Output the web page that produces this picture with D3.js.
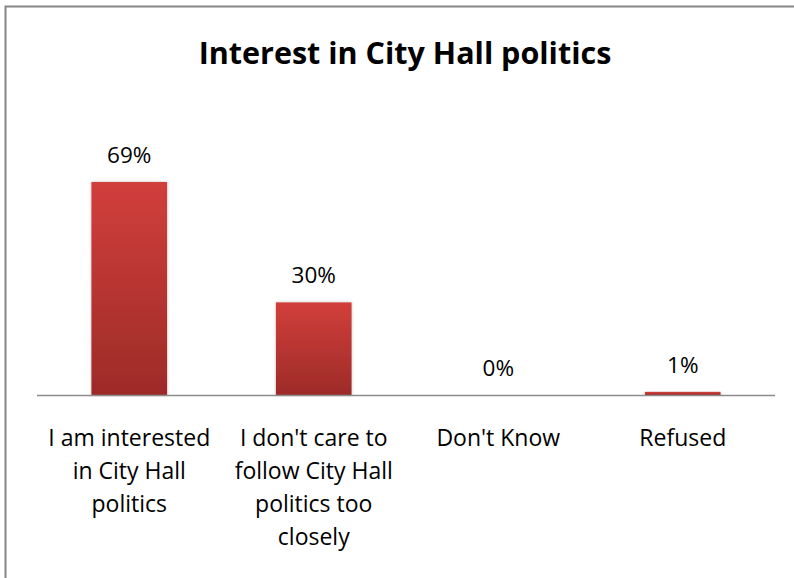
<!DOCTYPE html>
<html><head><meta charset="utf-8">
<script src="https://cdn.jsdelivr.net/npm/d3@7"></script>
<style>body{margin:0;background:#fff}svg{display:block}</style>
</head><body>
<script>
const categories = [
  ["I am interested", "in City Hall", "politics"],
  ["I don't care to", "follow City Hall", "politics too", "closely"],
  ["Don't Know"],
  ["Refused"]
];
const values = [69, 30, 0, 1];
const valueLabels = ["69%", "30%", "0%", "1%"];
const title = "Interest in City Hall politics";

const W = 794, H = 578;
const svg = d3.select("body").append("svg").attr("width", W).attr("height", H);
const defs = svg.append("defs");
const grad = defs.append("linearGradient").attr("id","bg").attr("x1",0).attr("y1",0).attr("x2",0).attr("y2",1);
grad.append("stop").attr("offset","0%").attr("stop-color","#d13f3b");
grad.append("stop").attr("offset","100%").attr("stop-color","#9d2b28");
const f = defs.append("filter").attr("id","sh").attr("x","-20%").attr("y","-20%").attr("width","140%").attr("height","140%");
f.append("feDropShadow").attr("dx",0).attr("dy",0).attr("stdDeviation",1.5).attr("flood-color","#000").attr("flood-opacity",0.25);

svg.append("rect").attr("x",5.5).attr("y",6.5).attr("width",W).attr("height",H)
  .attr("fill","#fff").attr("stroke","#868686").attr("stroke-width",2);

const font = "'Open Sans', sans-serif";
const x0 = 37, x1 = 775, yBase = 395;
const x = d3.scaleBand().domain(d3.range(categories.length)).range([x0, x1]).paddingInner(0.59).paddingOuter(0.295);
const y = d3.scaleLinear().domain([0, 69]).range([yBase, 182]);

svg.append("text").attr("x", 405).attr("y", 64).attr("text-anchor","middle")
  .attr("font-family", font).attr("font-weight","bold").attr("font-size", 30.5).attr("fill","#000").text(title);

svg.selectAll(".bar").data(values).join("rect").attr("class","bar")
  .attr("x",(d,i)=>x(i)).attr("width",x.bandwidth())
  .attr("y",d=>y(d)).attr("height",d=>yBase - y(d))
  .attr("fill","url(#bg)").attr("filter","url(#sh)");

svg.append("line").attr("x1",x0).attr("x2",x1).attr("y1",yBase+0.5).attr("y2",yBase+0.5)
  .attr("stroke","#8c8c8c").attr("stroke-width",1.5);

svg.selectAll(".vl").data(values).join("text").attr("class","vl")
  .attr("x",(d,i)=>x(i)+x.bandwidth()/2).attr("y",d=>y(d)-19)
  .attr("text-anchor","middle").attr("font-family",font).attr("font-size",22.5).attr("fill","#000")
  .text((d,i)=>valueLabels[i]);

const cl = svg.selectAll(".cl").data(categories).join("text").attr("class","cl")
  .attr("text-anchor","middle").attr("font-family",font).attr("font-size",23).attr("fill","#000");
cl.each(function(lines,i){
  const t = d3.select(this);
  lines.forEach((ln,j)=>{
    t.append("tspan").attr("x", x(i)+x.bandwidth()/2).attr("y", 446 + j*33).text(ln);
  });
});
</script>
</body></html>
